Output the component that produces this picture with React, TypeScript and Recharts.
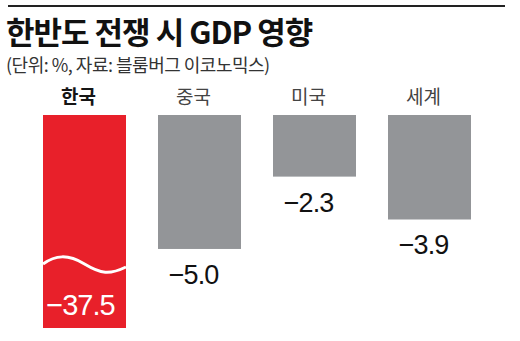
import { BarChart, Bar, XAxis, YAxis, Cell, LabelList } from "recharts";

const countries = ["한국", "중국", "미국", "세계"];
const gdpImpact = [-37.5, -5.0, -2.3, -3.9];
const barColors = ["#e8202a", "#939598", "#939598", "#939598"];
// axis is broken: 한국 bar is cut off at this value
const AXIS_MIN = -7.95;

const data = countries.map((c, i) => ({
  name: c,
  value: gdpImpact[i],
  shown: Math.max(gdpImpact[i], AXIS_MIN),
}));

const KR = "'Noto Sans CJK KR', 'Noto Sans', sans-serif";
const NUM = "'Liberation Sans', Arial, sans-serif";

const fmt = (v: number) => "\u2212" + Math.abs(v).toFixed(1);

// negative bars come with negative height
const norm = (y: number, h: number) => ({ top: Math.min(y, y + h), h: Math.abs(h) });

function CategoryTick({ x, payload, index }: any) {
  return (
    <text
      x={x - 6}
      y={104}
      textAnchor="middle"
      fontFamily={KR}
      fontSize={19}
      fontWeight={index === 0 ? 700 : 400}
      fill={index === 0 ? "#151515" : "#444"}
    >
      {payload.value}
    </text>
  );
}

function BarShape(props: any) {
  const { x, width, fill, payload } = props;
  const { top, h } = norm(props.y, props.height);
  const broken = payload.value < AXIS_MIN;
  const bottom = top + h;
  const wy = bottom - 64;
  const w = width;
  return (
    <g>
      <rect x={x} y={top} width={width} height={h} fill={fill} />
      {broken && (
        <path
          d={`M${x},${wy} C${x + w * 0.15},${wy - 9} ${x + w * 0.3},${wy - 10} ${x + w * 0.5},${wy} S${x + w * 0.8},${wy + 11} ${x + w},${wy + 3}`}
          fill="none"
          stroke="#fff"
          strokeWidth={3}
        />
      )}
    </g>
  );
}

function ValueLabel(props: any) {
  const { x, width, index } = props;
  const { top, h } = norm(props.y, props.height);
  const v = data[index].value;
  const cx = x + width / 2 - 6;
  if (v < AXIS_MIN) {
    return (
      <text x={cx + 2} y={top + h - 13} textAnchor="middle" fontFamily={NUM} fontSize={29} fill="#fff" letterSpacing={-1}>
        {fmt(v)}
      </text>
    );
  }
  return (
    <text x={cx} y={top + h + 35} textAnchor="middle" fontFamily={NUM} fontSize={27} fill="#111" letterSpacing={-1}>
      {fmt(v)}
    </text>
  );
}

export default function App() {
  return (
    <div style={{ position: "absolute", left: 0, top: 0, width: 520, height: 341, background: "#fff", overflow: "hidden" }}>
      <div style={{ position: "absolute", left: 8, top: 5, width: 497, height: 2, background: "#222" }} />
      <div
        style={{
          position: "absolute", left: 6, top: 11, fontFamily: KR, fontWeight: 700, fontSize: 31,
          letterSpacing: -1, color: "#111", whiteSpace: "nowrap", lineHeight: "40px",
        }}
      >
        한반도 전쟁 시 GDP 영향
      </div>
      <div
        style={{
          position: "absolute", left: 6, top: 51, fontFamily: KR, fontSize: 18,
          letterSpacing: -0.5, color: "#333", whiteSpace: "nowrap", lineHeight: "26px",
        }}
      >
        (단위: %, 자료: 블룸버그 이코노믹스)
      </div>
      <div style={{ position: "absolute", left: 0, top: 0 }}>
        <BarChart
          width={520}
          height={341}
          data={data}
          margin={{ top: 85, right: 33, bottom: 13, left: 27 }}
          barCategoryGap={16}
        >
          <XAxis
            dataKey="name"
            orientation="top"
            height={30}
            axisLine={false}
            tickLine={false}
            tick={<CategoryTick />}
            interval={0}
          />
          <YAxis hide domain={[AXIS_MIN, 0]} allowDataOverflow />
          <Bar dataKey="shown" isAnimationActive={false} shape={<BarShape />}>
            {data.map((_, i) => (
              <Cell key={i} fill={barColors[i]} />
            ))}
            <LabelList dataKey="value" content={<ValueLabel />} />
          </Bar>
        </BarChart>
      </div>
    </div>
  );
}
